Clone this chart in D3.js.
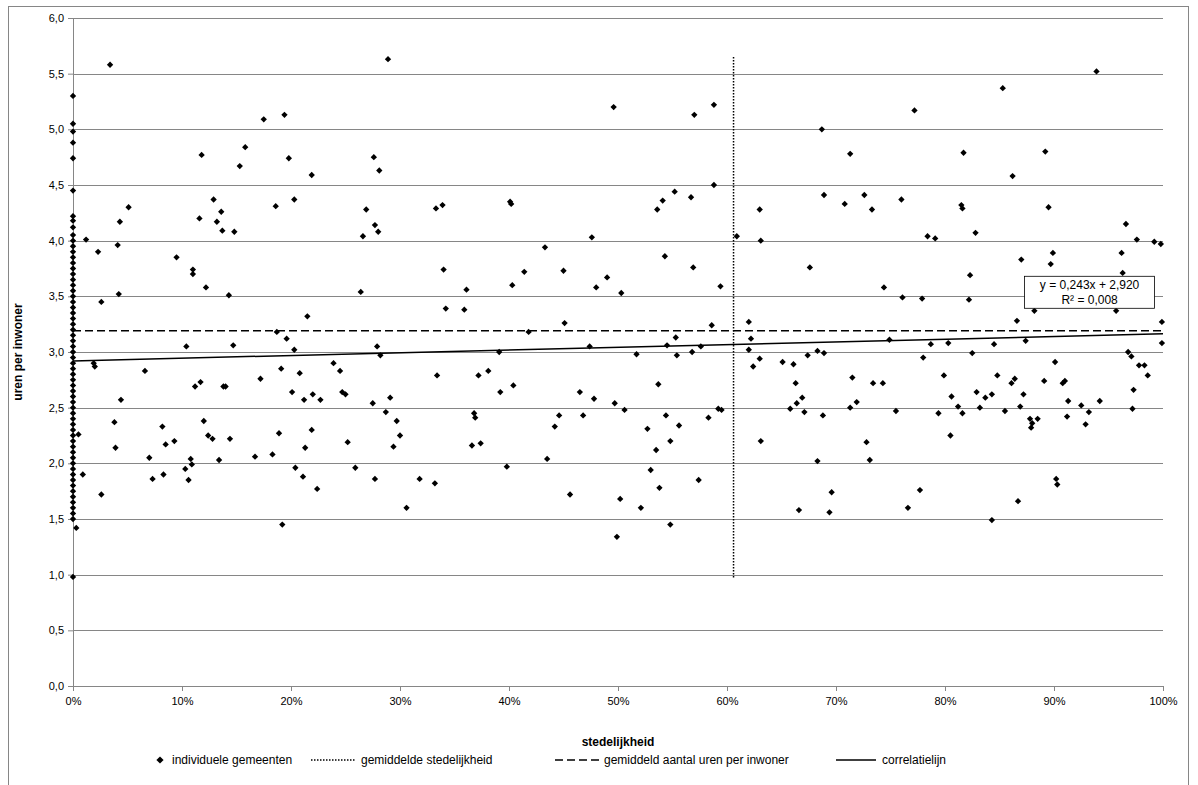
<!DOCTYPE html>
<html><head><meta charset="utf-8">
<script src="https://cdn.jsdelivr.net/npm/d3@7"></script>
<style>
body{margin:0;background:#fff;font-family:"Liberation Sans Narrow","Liberation Sans",Arial,sans-serif;}
text{fill:#000;}
</style></head><body>
<script>
// gemeenten op x = 0% (stedelijkheid nul)
var zeroUren = [5.3,5.05,4.98,4.88,4.74,4.45,4.22,4.18,4.12,4.05,4.0,3.95,3.9,3.85,3.8,3.75,3.7,3.65,3.6,3.55,3.5,3.45,3.4,3.35,3.3,3.25,3.2,3.15,3.1,3.05,3.0,2.95,2.9,2.85,2.8,2.75,2.7,2.65,2.6,2.55,2.5,2.45,2.4,2.35,2.3,2.25,2.2,2.15,2.1,2.05,2.0,1.95,1.9,1.85,1.8,1.75,1.7,1.65,1.6,1.55,1.5,0.98]

// overige gemeenten: [stedelijkheid %, uren]
var gemeenten = [[0.3,1.42],[0.5,2.26],[0.9,1.9],[1.2,4.01],[1.9,2.9],[2.0,2.87],[2.3,3.9],[2.6,3.45],[2.6,1.72],[3.4,5.58],[3.8,2.37],[3.9,2.14],[4.1,3.96],[4.2,3.52],[4.3,4.17],[4.4,2.57],[5.1,4.3],[6.6,2.83],[7.0,2.05],[7.3,1.86],[8.2,2.33],[8.3,1.9],[8.5,2.17],[9.3,2.2],[9.5,3.85],[10.3,1.95],[10.4,3.05],[10.6,1.85],[10.8,2.04],[10.9,1.99],[11.0,3.74],[11.0,3.7],[11.2,2.69],[11.6,4.2],[11.7,2.73],[11.8,4.77],[12.0,2.38],[12.2,3.58],[12.4,2.25],[12.8,2.22],[12.9,4.37],[13.2,4.17],[13.4,2.03],[13.6,4.26],[13.7,4.09],[13.8,2.69],[14.0,2.69],[14.3,3.51],[14.4,2.22],[14.7,3.06],[14.8,4.08],[15.3,4.67],[15.8,4.84],[16.7,2.06],[17.2,2.76],[17.5,5.09],[18.3,2.08],[18.6,4.31],[18.7,3.18],[18.9,2.27],[19.1,2.85],[19.2,1.45],[19.4,5.13],[19.6,3.12],[19.8,4.74],[20.1,2.64],[20.3,4.37],[20.3,3.02],[20.4,1.96],[20.8,2.81],[21.1,1.88],[21.2,2.57],[21.3,2.14],[21.5,3.32],[21.9,4.59],[21.9,2.3],[22.0,2.62],[22.4,1.77],[22.7,2.57],[23.9,2.9],[24.5,2.83],[24.7,2.64],[25.0,2.62],[25.2,2.19],[25.9,1.96],[26.4,3.54],[26.6,4.04],[26.9,4.28],[27.5,2.54],[27.6,4.75],[27.7,1.86],[27.7,4.14],[27.9,3.05],[28.0,4.08],[28.1,4.63],[28.2,2.97],[28.7,2.46],[28.9,5.63],[29.1,2.59],[29.4,2.15],[29.7,2.38],[30.0,2.25],[30.6,1.6],[31.8,1.86],[33.2,1.82],[33.3,4.29],[33.4,2.79],[33.9,4.32],[34.0,3.74],[34.2,3.39],[35.9,3.38],[36.1,3.56],[36.6,2.16],[36.8,2.45],[36.9,2.41],[37.2,2.79],[37.4,2.18],[38.1,2.83],[39.1,3.0],[39.2,2.64],[39.8,1.97],[40.1,4.35],[40.2,4.33],[40.3,3.6],[40.4,2.7],[41.4,3.72],[41.8,3.18],[43.3,3.94],[43.5,2.04],[44.2,2.33],[44.6,2.43],[45.0,3.73],[45.1,3.26],[45.6,1.72],[46.5,2.64],[46.8,2.43],[47.4,3.05],[47.6,4.03],[47.8,2.58],[48.0,3.58],[49.0,3.67],[49.6,5.2],[49.7,2.54],[49.9,1.34],[50.2,1.68],[50.3,3.53],[50.6,2.48],[51.7,2.98],[52.1,1.6],[52.7,2.31],[53.0,1.94],[53.5,2.12],[53.6,4.28],[53.7,2.71],[53.8,1.78],[54.1,4.36],[54.3,3.86],[54.4,2.43],[54.5,3.06],[54.8,2.2],[54.8,1.45],[55.2,4.44],[55.3,3.13],[55.4,2.97],[55.6,2.34],[56.7,4.39],[56.8,3.0],[56.9,3.76],[57.0,5.13],[57.4,1.85],[57.6,3.05],[58.3,2.41],[58.6,3.24],[58.8,5.22],[58.8,4.5],[59.2,2.49],[59.5,2.48],[59.4,3.59],[60.9,4.04],[62.0,3.27],[62.0,3.02],[62.2,3.12],[62.4,2.87],[63.0,2.94],[63.0,4.28],[63.1,4.0],[63.1,2.2],[65.1,2.91],[65.8,2.49],[66.1,2.89],[66.3,2.72],[66.4,2.54],[66.6,1.58],[66.9,2.59],[67.1,2.46],[67.4,2.97],[67.6,3.76],[68.3,3.01],[68.3,2.02],[68.7,5.0],[68.9,4.41],[68.8,2.43],[68.9,2.99],[69.4,1.56],[69.6,1.74],[70.8,4.33],[71.3,4.78],[71.3,2.5],[71.5,2.77],[71.9,2.55],[72.6,4.41],[72.8,2.19],[73.1,2.03],[73.3,4.28],[73.4,2.72],[74.3,2.72],[74.4,3.58],[74.9,3.11],[75.5,2.47],[76.0,4.37],[76.1,3.49],[76.6,1.6],[77.2,5.17],[77.7,1.76],[77.9,3.48],[78.0,2.95],[78.4,4.04],[78.7,3.07],[79.1,4.02],[79.4,2.45],[79.9,2.79],[80.3,3.08],[80.5,2.25],[80.6,2.6],[81.2,2.51],[81.5,4.32],[81.6,4.29],[81.6,2.45],[81.7,4.79],[82.2,3.47],[82.3,3.69],[82.5,2.99],[82.8,4.07],[82.9,2.64],[83.2,2.5],[83.7,2.59],[84.3,2.62],[84.3,1.49],[84.5,3.07],[84.8,2.79],[85.3,5.37],[85.5,2.47],[86.1,2.72],[86.2,4.58],[86.4,2.76],[86.6,3.28],[86.7,1.66],[86.9,2.51],[87.0,3.83],[87.2,2.62],[87.4,3.1],[87.8,2.4],[87.9,2.32],[88.0,2.36],[88.2,3.37],[88.5,2.4],[89.1,2.74],[89.2,4.8],[89.5,4.3],[89.7,3.79],[89.9,3.89],[90.1,2.91],[90.2,1.86],[90.3,1.81],[90.8,2.72],[91.0,2.74],[91.3,2.56],[91.2,2.42],[92.5,2.52],[92.9,2.35],[93.2,2.46],[93.9,5.52],[94.2,2.56],[95.7,3.37],[96.2,3.89],[96.3,3.71],[96.6,4.15],[96.8,3.0],[97.1,2.96],[97.2,2.49],[97.3,2.66],[97.6,4.01],[97.8,2.88],[98.3,2.88],[98.5,3.49],[98.6,2.79],[99.2,3.99],[99.8,3.97],[99.9,3.27],[99.9,3.08]]

var gemStedelijkheid = 60.6
var gemUren = 3.19
var helling = 0.243, snijpunt = 2.920
var yTicks = [0,0.5,1,1.5,2,2.5,3,3.5,4,4.5,5,5.5,6]
var xTicks = [0,10,20,30,40,50,60,70,80,90,100]
var legendLabels = ['individuele gemeenten','gemiddelde stedelijkheid','gemiddeld aantal uren per inwoner','correlatielijn']

var punten = zeroUren.map(function(u){ return [0,u] }).concat(gemeenten)

var W = 1198, H = 785
var margin = {top: 18, left: 73, right: 35, bottom: 99}
var width = W - margin.left - margin.right, height = H - margin.top - margin.bottom

var svg = d3.select('body').append('svg').attr('width', W).attr('height', H)
svg.append('rect').attr('x', 8.5).attr('y', 6.5).attr('width', 1180).attr('height', 790)
  .attr('fill', 'none').attr('stroke', '#868686')

var g = svg.append('g').attr('transform', 'translate(' + margin.left + ',' + margin.top + ')')

var x = d3.scaleLinear().domain([0,100]).range([0,width])
var y = d3.scaleLinear().domain([0,6]).range([height,0])
var fmt = function(d){ return d3.format('.1f')(d).replace('.', ',') }

// gridlines
g.selectAll('.grid').data(yTicks).enter().append('line')
  .attr('x1', 0).attr('x2', width)
  .attr('y1', function(d){ return Math.round(y(d)) + 0.5 }).attr('y2', function(d){ return Math.round(y(d)) + 0.5 })
  .attr('stroke', '#868686').attr('stroke-width', 1)

var yAxis = g.append('g').call(d3.axisLeft(y).tickValues(yTicks).tickFormat(fmt).tickSize(5).tickPadding(4))
var xAxis = g.append('g').attr('transform', 'translate(0,' + height + ')')
  .call(d3.axisBottom(x).tickValues(xTicks).tickFormat(function(d){ return d + '%' }).tickSize(5).tickPadding(6))
;[xAxis, yAxis].forEach(function(a){
  a.selectAll('path,line').attr('stroke', '#868686')
  a.selectAll('text').attr('font-size', 11).attr('font-family', '"Liberation Sans Narrow","Liberation Sans",Arial')
})

// gemiddelde lijnen
g.append('line').attr('x1', x(gemStedelijkheid)).attr('x2', x(gemStedelijkheid))
  .attr('y1', y(5.65)).attr('y2', y(0.96))
  .attr('stroke', '#000').attr('stroke-width', 1.5).attr('stroke-dasharray', '1.5,1.5')
g.append('line').attr('x1', 0).attr('x2', width).attr('y1', y(gemUren)).attr('y2', y(gemUren))
  .attr('stroke', '#000').attr('stroke-width', 1.5).attr('stroke-dasharray', '8,4')

// punten: vierkant 45 graden gedraaid
var diamond = d3.symbol().type(d3.symbolSquare).size(20)
g.selectAll('.pt').data(punten).enter().append('path')
  .attr('d', diamond)
  .attr('transform', function(d){ return 'translate(' + x(d[0]) + ',' + y(d[1]) + ') rotate(45)' })
  .attr('fill', '#000')

// correlatielijn
g.append('line').attr('x1', x(0)).attr('x2', x(100))
  .attr('y1', y(snijpunt)).attr('y2', y(snijpunt + helling))
  .attr('stroke', '#000').attr('stroke-width', 1.5)

// vergelijking
var lb = g.append('g').attr('transform', 'translate(' + (x(87.3)) + ',' + (y(3.68)) + ')')
lb.append('rect').attr('width', 130).attr('height', 32).attr('fill', '#fff').attr('stroke', '#000').attr('stroke-width', 0.8)
lb.append('text').attr('x', 65).attr('y', 13).attr('text-anchor', 'middle').attr('font-size', 12).text('y = 0,243x + 2,920')
lb.append('text').attr('x', 65).attr('y', 28).attr('text-anchor', 'middle').attr('font-size', 12).text('R² = 0,008')

// as titels
svg.append('text').attr('x', margin.left + width / 2).attr('y', 746).attr('text-anchor', 'middle')
  .attr('font-size', 12).attr('font-weight', 'bold').text('stedelijkheid')
svg.append('text').attr('transform', 'translate(22,' + (margin.top + height / 2) + ') rotate(-90)')
  .attr('text-anchor', 'middle').attr('font-size', 12).attr('font-weight', 'bold').text('uren per inwoner')

// legenda
var lg = svg.append('g').attr('transform', 'translate(0,760)')
lg.append('path').attr('d', d3.symbol().type(d3.symbolSquare).size(26)).attr('transform', 'translate(160,0) rotate(45)')
lg.append('text').attr('x', 172).attr('y', 4).attr('font-size', 12).text(legendLabels[0])
lg.append('line').attr('x1', 311).attr('x2', 356).attr('stroke', '#000').attr('stroke-width', 1.5).attr('stroke-dasharray', '1.5,1.5')
lg.append('text').attr('x', 361).attr('y', 4).attr('font-size', 12).text(legendLabels[1])
lg.append('line').attr('x1', 555).attr('x2', 600).attr('stroke', '#000').attr('stroke-width', 1.5).attr('stroke-dasharray', '8,4')
lg.append('text').attr('x', 604).attr('y', 4).attr('font-size', 12).text(legendLabels[2])
lg.append('line').attr('x1', 836).attr('x2', 876).attr('stroke', '#000').attr('stroke-width', 1.5)
lg.append('text').attr('x', 882).attr('y', 4).attr('font-size', 12).text(legendLabels[3])
</script>
</body></html>
